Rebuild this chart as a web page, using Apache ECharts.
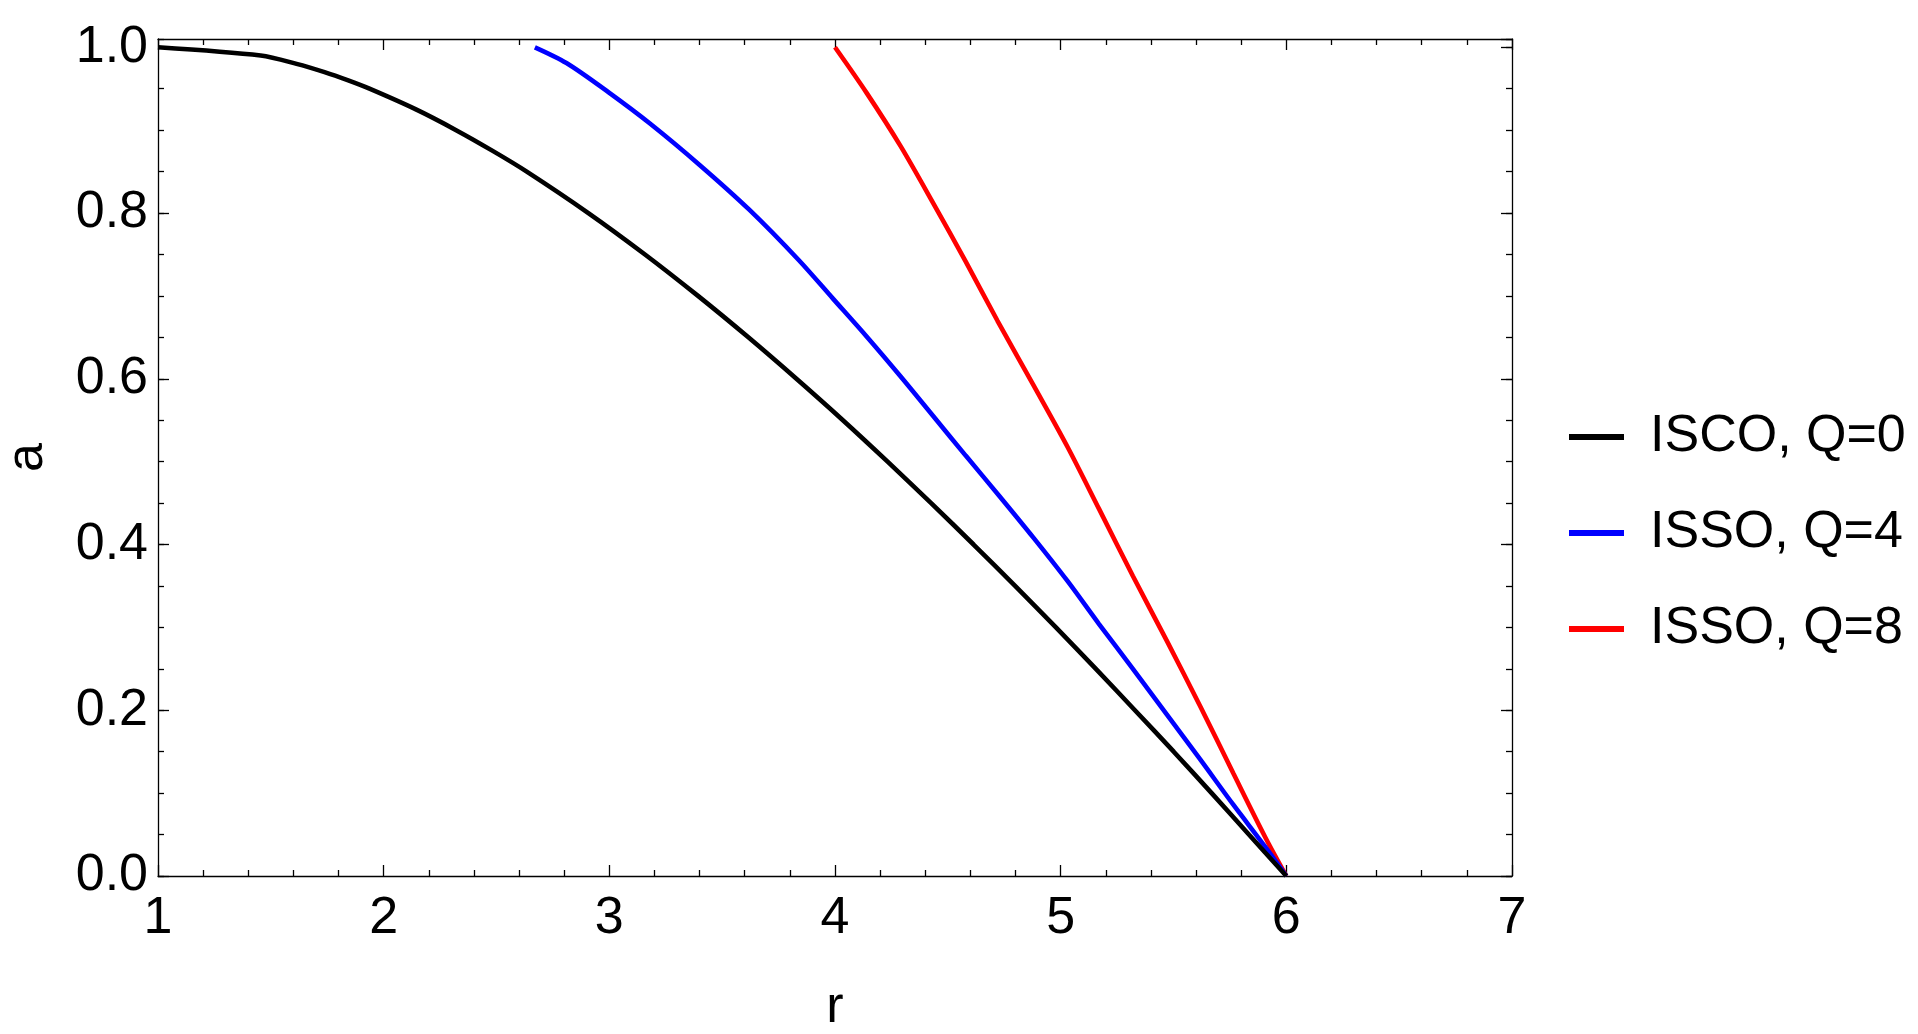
<!DOCTYPE html>
<html>
<head>
<meta charset="utf-8">
<title>a vs r</title>
<script src="https://cdn.jsdelivr.net/npm/echarts@6/dist/echarts.min.js"></script>
<style>
  html, body { margin: 0; padding: 0; background: #fff; }
  #main { width: 1918px; height: 1034px; }
</style>
</head>
<body>
<div id="main"></div>
<script>
// 数据 (r, a) 读自原图
const seriesNames = ["ISCO, Q=0", "ISSO, Q=4", "ISSO, Q=8"];
const iscoQ0 = [
  [1.0, 1.0], [1.455, 0.99], [1.614, 0.98], [1.738, 0.97], [1.843, 0.96],
  [1.937, 0.95], [2.143, 0.925], [2.321, 0.9], [2.483, 0.875], [2.634, 0.85],
  [2.907, 0.8], [3.158, 0.75], [3.393, 0.7], [3.616, 0.65], [3.829, 0.6],
  [4.035, 0.55], [4.233, 0.5], [4.426, 0.45], [4.614, 0.4], [4.798, 0.35],
  [4.979, 0.3], [5.156, 0.25], [5.329, 0.2], [5.501, 0.15], [5.669, 0.1],
  [5.834, 0.05], [6.0, 0.0]
];
const issoQ4 = [
  [2.67, 1.0], [2.81, 0.981], [3.0, 0.945], [3.18, 0.908], [3.4, 0.858],
  [3.62, 0.804], [3.84, 0.743], [3.99, 0.697], [4.14, 0.651], [4.29, 0.603],
  [4.435, 0.555], [4.58, 0.507], [4.73, 0.458], [4.88, 0.408], [5.03, 0.356],
  [5.17, 0.304], [5.32, 0.25], [5.47, 0.195], [5.62, 0.14], [5.765, 0.086],
  [5.91, 0.034], [6.0, 0.0]
];
const issoQ8 = [
  [4.0, 1.0], [4.14, 0.945], [4.29, 0.881], [4.435, 0.812], [4.58, 0.741],
  [4.72, 0.67], [4.88, 0.592], [5.03, 0.518], [5.17, 0.443], [5.32, 0.362],
  [5.47, 0.284], [5.62, 0.204], [5.765, 0.124], [5.91, 0.045], [6.0, 0.0]
];
const xTicks = [1, 2, 3, 4, 5, 6, 7];
const yTicks = [0, 0.2, 0.4, 0.6, 0.8, 1.0];

const colors = ["#000000", "#0000ff", "#ff0000"];
const font = "Liberation Sans";
const lineColor = "#000";

const chart = echarts.init(document.getElementById("main"));

// 公共的轴样式
function xAxisBase(pos, showLabel) {
  return {
    type: "value",
    position: pos,
    min: xTicks[0],
    max: xTicks[xTicks.length - 1],
    interval: 1,
    axisLine: { show: true, onZero: false, lineStyle: { color: lineColor, width: 1.3 } },
    axisTick: { show: true, inside: true, length: 11, lineStyle: { color: lineColor, width: 1.3 } },
    minorTick: { show: true, splitNumber: 5, length: 6, lineStyle: { color: lineColor, width: 1.3 } },
    axisLabel: {
      show: showLabel,
      margin: 17,
      fontFamily: font,
      fontSize: 52,
      color: "#000",
      formatter: (v) => String(v)
    },
    splitLine: { show: false }
  };
}

function yAxisBase(pos, step, tickLen, showLabel, showLine) {
  return {
    type: "value",
    position: pos,
    min: yTicks[0],
    max: 1.01,
    interval: step,
    axisLine: { show: showLine, onZero: false, lineStyle: { color: lineColor, width: 1.3 } },
    axisTick: { show: true, inside: true, length: tickLen, lineStyle: { color: lineColor, width: 1.3 } },
    axisLabel: {
      show: showLabel,
      showMaxLabel: false,
      margin: 10,
      fontFamily: font,
      fontSize: 52,
      color: "#000",
      formatter: (v) => (v > 1.0001 ? "" : v.toFixed(1))
    },
    splitLine: { show: false }
  };
}

const xBottom = xAxisBase("bottom", true);
xBottom.name = "r";
xBottom.nameLocation = "middle";
xBottom.nameGap = 106;
xBottom.nameTextStyle = { fontFamily: font, fontSize: 52, color: "#000" };

const yLeft = yAxisBase("left", 0.2, 11, true, true);
yLeft.name = "a";
yLeft.nameLocation = "middle";
yLeft.nameGap = 104;
yLeft.nameRotate = 90;
yLeft.nameTextStyle = { fontFamily: font, fontSize: 52, color: "#000" };

const option = {
  animation: false,
  backgroundColor: "#fff",
  color: colors,
  grid: { left: 158, right: 406, top: 39, bottom: 158, containLabel: false, outerBoundsMode: "none" },
  legend: {
    orient: "vertical",
    left: 1564,
    top: 398,
    itemWidth: 55,
    itemHeight: 6,
    itemGap: 28,
    icon: "rect",
    textStyle: {
      fontFamily: font, fontSize: 52, color: "#000", lineHeight: 52,
      padding: [0, 0, 16, 21]
    },
    data: seriesNames
  },
  xAxis: [xBottom, xAxisBase("top", false)],
  yAxis: [
    yLeft,
    yAxisBase("left", 0.05, 6, false, false),
    yAxisBase("right", 0.2, 11, false, true),
    yAxisBase("right", 0.05, 6, false, false)
  ],
  series: []
};

const allData = [iscoQ0, issoQ4, issoQ8];
for (let i = 0; i < allData.length; i++) {
  option.series.push({
    name: seriesNames[i],
    type: "line",
    xAxisIndex: 0,
    yAxisIndex: 0,
    data: allData[i],
    showSymbol: false,
    symbol: "none",
    smooth: 0.3,
    lineStyle: { color: colors[i], width: 4.6 },
    itemStyle: { color: colors[i] },
    z: 3 - i
  });
}

chart.setOption(option);
</script>
</body>
</html>
